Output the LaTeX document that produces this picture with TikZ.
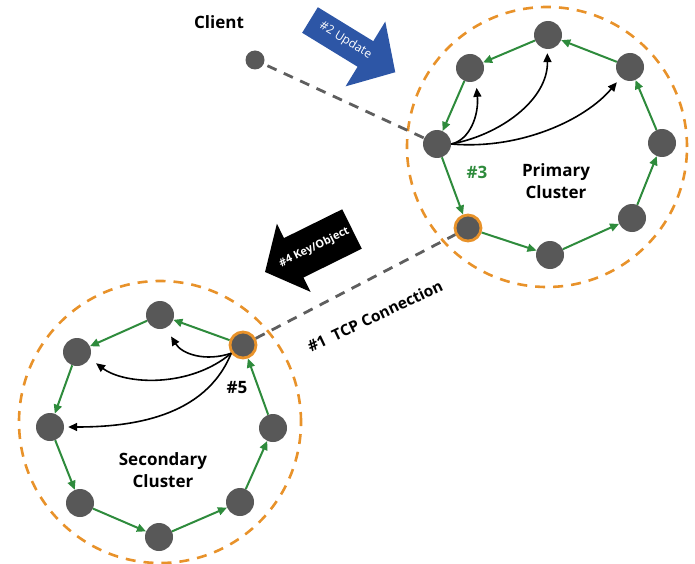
\documentclass[tikz,border=0pt]{standalone}
\usepackage{fontspec}
\setmainfont{Open Sans}
\usetikzlibrary{arrows.meta}
\definecolor{ringorange}{HTML}{E8922A}
\definecolor{grn}{HTML}{2E8B3C}
\definecolor{nodegray}{HTML}{585858}
\definecolor{dashgray}{HTML}{5E5E5E}
\definecolor{updblue}{HTML}{2D56A6}
\begin{document}
\begin{tikzpicture}[x=1pt,y=-1pt,
  srv/.style={circle,fill=nodegray,minimum size=28pt,inner sep=0pt},
  hsrv/.style={circle,fill=nodegray,draw=ringorange,line width=2.8pt,minimum size=26pt,inner sep=0pt},
  clusterring/.style={circle,draw=ringorange,line width=2.6pt,dash pattern=on 10pt off 8pt,inner sep=0pt},
  garrow/.style={draw=grn,line width=2pt,-{Triangle[length=9pt,width=8pt]}},
  barrow/.style={draw=black,line width=1.6pt,-{Triangle[length=9pt,width=8pt]}},
  link/.style={draw=dashgray,line width=2.8pt,dash pattern=on 10pt off 8pt},
  lbl/.style={font=\bfseries\fontsize{17}{22}\selectfont,align=center,inner sep=0pt}
]
\useasboundingbox (0,0) rectangle (695,564);

% cluster rings
\node[clusterring,minimum size=280pt] (pring) at (547,147) {};
\node[clusterring,minimum size=282pt] (sring) at (160,422) {};

% primary cluster
\node[srv] (p1) at (548,35) {};
\node[srv] (p2) at (470,68) {};
\node[srv] (p3) at (437,144) {};
\node[hsrv] (p4) at (468,228) {};
\node[srv] (p5) at (550,255) {};
\node[srv] (p6) at (632,218) {};
\node[srv] (p7) at (662,143) {};
\node[srv] (p8) at (630,67) {};

% secondary cluster
\node[hsrv] (s1) at (243,345) {};
\node[srv] (s2) at (160,315) {};
\node[srv] (s3) at (77,352) {};
\node[srv] (s4) at (50,427) {};
\node[srv] (s5) at (80,503) {};
\node[srv] (s6) at (159,537) {};
\node[srv] (s7) at (240,502) {};
\node[srv] (s8) at (273,428) {};

% client
\node[circle,fill=nodegray,minimum size=19pt,inner sep=0pt] (client) at (255,60) {};
\node[lbl] (clientlbl) at (219,22) {Client};

% dashed links
\draw[link,shorten <=4pt] (client) -- (p3);
\draw[link] (s1) -- (p4);

% ring arrows
\foreach \a/\b in {p1/p2,p2/p3,p3/p4,p4/p5,p5/p6,p6/p7,p7/p8,p8/p1,
                   s1/s2,s2/s3,s3/s4,s4/s5,s5/s6,s6/s7,s7/s8,s8/s1}
  \draw[garrow] (\a) -- (\b);

% replication arrows, primary
\draw[barrow,shorten >=7pt] (p3.east) .. controls (470,140) and (479,115) .. (p2.-65);
\draw[barrow,shorten >=4pt] (p3.east) .. controls (500,135) and (548,100) .. (p1.-93);
\draw[barrow,shorten >=6pt] (p3.east) .. controls (520,150) and (585,120) .. (p8.-131);

% replication arrows, secondary
\draw[barrow,shorten >=10pt] (s1.215) .. controls (205,362) and (182,354) .. (s2.-66);
\draw[barrow,shorten >=8pt] (s1.215) .. controls (190,388) and (125,385) .. (s3.-27);
\draw[barrow,shorten >=4pt] (s1.215) .. controls (205,418) and (130,427) .. (s4.0);

% labels
\node[lbl,text=grn] (n3) at (477,172) {\#3};
\node[lbl] (plbl) at (556,181) {Primary\\Cluster};
\node[lbl] (n5) at (237,388) {\#5};
\node[lbl] (slbl) at (163,470) {Secondary\\Cluster};
\node[lbl,rotate=25.4,font=\bfseries\fontsize{15.5}{18}\selectfont] (tcp) at (375,316) {\#1\ \ TCP Connection};

% #2 Update block arrow
\begin{scope}[shift={(310,20)},rotate=-31.5]
  \fill[updblue] (0,-15) -- (65,-15) -- (65,-38) -- (100,0) -- (65,38) -- (65,15) -- (0,15) -- cycle;
  \node[rotate=-31.5,text=white,font=\fontsize{12}{14}\selectfont,inner sep=0pt] (upd) at (41,-1) {\#2 Update};
\end{scope}

% #4 Key/Object block arrow
\begin{scope}[shift={(352,229)},rotate=206.3]
  \fill[black] (0,-22) -- (65,-22) -- (65,-38) -- (97,0) -- (65,38) -- (65,22) -- (0,22) -- cycle;
  \node[rotate=26.3,text=white,font=\bfseries\fontsize{11}{13}\selectfont,inner sep=0pt] (keyobj) at (42,0) {\#4 Key/Object};
\end{scope}
\end{tikzpicture}
\end{document}
